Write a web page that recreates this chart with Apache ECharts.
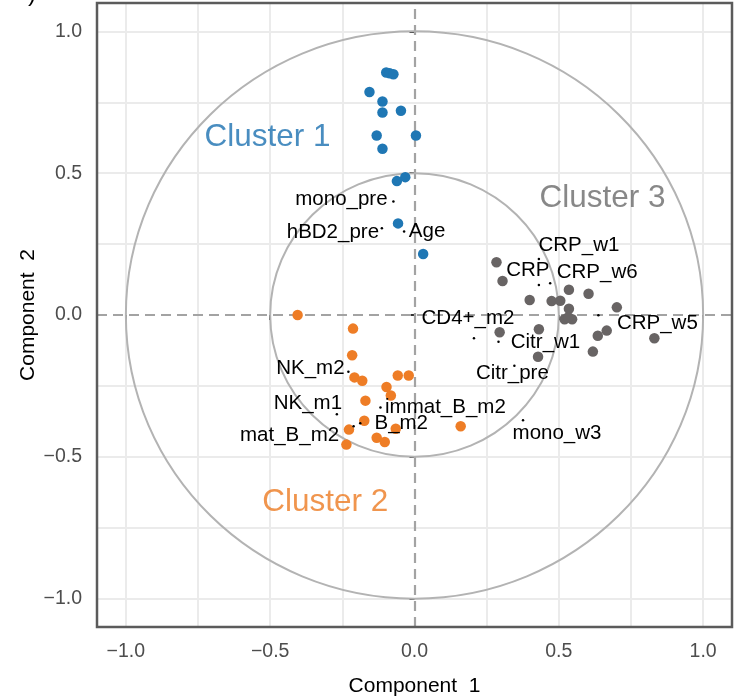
<!DOCTYPE html>
<html>
<head>
<meta charset="utf-8">
<script src="https://cdn.jsdelivr.net/npm/echarts@6/dist/echarts.min.js"></script>
<style>
  html, body { margin: 0; padding: 0; background: #ffffff; }
  #chart { width: 734px; height: 698px; }
</style>
</head>
<body>
<div id="chart"></div>
<script>
// Observation loadings on the first two components, grouped by cluster
const cluster1 = [
  [-0.098, 0.855], [-0.086, 0.852], [-0.073, 0.849], [-0.156, 0.786],
  [-0.111, 0.753], [-0.111, 0.714], [-0.047, 0.720], [-0.131, 0.633],
  [0.005, 0.633], [-0.111, 0.586], [-0.032, 0.486], [-0.061, 0.472],
  [-0.057, 0.323], [0.030, 0.215]
];
const cluster2 = [
  [-0.405, 0.000], [-0.213, -0.048], [-0.216, -0.142], [-0.208, -0.220],
  [-0.181, -0.232], [-0.058, -0.213], [-0.020, -0.213], [-0.097, -0.254],
  [-0.082, -0.284], [-0.170, -0.302], [-0.174, -0.373], [-0.227, -0.404],
  [-0.236, -0.457], [-0.131, -0.433], [-0.103, -0.448], [-0.065, -0.401],
  [0.160, -0.392]
];
const cluster3 = [
  [0.284, 0.186], [0.305, 0.120], [0.399, 0.053], [0.475, 0.049],
  [0.505, 0.050], [0.535, 0.089], [0.603, 0.075], [0.535, 0.022],
  [0.701, 0.027], [0.520, -0.015], [0.546, -0.015], [0.533, -0.008],
  [0.431, -0.050], [0.295, -0.061], [0.666, -0.055], [0.635, -0.073],
  [0.831, -0.082], [0.618, -0.129], [0.428, -0.147]
];

// Variable loadings
const varNames = ['mono_pre', 'hBD2_pre', 'Age', 'CRP_w1', 'CRP', 'CRP_w6', 'CD4+_m2', 'Citr_w1',
  'Citr_pre', 'CRP_w5', 'mono_w3', 'immat_B_m2', 'B_m2', 'NK_m2', 'NK_m1', 'mat_B_m2'];
const varX = [-0.073, -0.113, -0.036, 0.431, 0.431, 0.470, 0.206, 0.291,
  0.346, 0.637, 0.376, -0.118, -0.188, -0.229, -0.269, -0.211];
const varY = [0.400, 0.306, 0.294, 0.197, 0.106, 0.112, -0.082, -0.094,
  -0.179, -0.001, -0.371, -0.326, -0.382, -0.200, -0.350, -0.392];

// Repelled label placement (pixel shift from point to label centre)
const labelShift = [[-52, -2], [-49, 4], [23, 0], [40, -14], [-11, -15], [47, -11], [-6, -20], [47, 1],
  [-2, 8], [59, 8], [34, 13], [65, 0], [41, 0], [-38, -3], [-29, -11], [-64, 9]];

// Cluster captions and where they sit (data units)
const clusterNames = ['Cluster 1', 'Cluster 2', 'Cluster 3'];
const clusterCaptionAt = [[-0.509, 0.625], [-0.309, -0.659], [0.651, 0.412]];

// Correlation circles radii
const circleRadii = [1, 0.5];

// Axis ticks and grid
const tickVals = [-1, -0.5, 0, 0.5, 1];
const gridVals = [-1, -0.75, -0.5, -0.25, 0.25, 0.5, 0.75, 1];

const FONT = '"Liberation Sans", Arial, Helvetica, sans-serif';
const C1 = '#1F77B4', C2 = '#EE7D26', C3 = '#686464';
const C1TXT = '#1C70B0', C2TXT = '#EC7A22', C3TXT = '#6A6A6A';

const fmt = v => (v < 0 ? '\u2212' : '') + Math.abs(v).toFixed(1);
const toPairs = (xs, ys) => xs.map((x, i) => [x, ys[i]]);

const chart = echarts.init(document.getElementById('chart'), null, { renderer: 'canvas' });

const gridLineData = [
  ...gridVals.map(v => ({ xAxis: v })),
  ...gridVals.map(v => ({ yAxis: v }))
];

chart.setOption({
  animation: false,
  backgroundColor: '#ffffff',
  textStyle: { fontFamily: FONT },
  grid: {
    left: 97, right: 2, top: 3, bottom: 71,
    outerBoundsMode: 'none', containLabel: false,
    show: true, z: 10,
    backgroundColor: 'transparent',
    borderColor: '#5B5B5B', borderWidth: 2.5
  },
  xAxis: {
    type: 'value', min: -1.1, max: 1.1,
    axisLine: { show: false },
    splitLine: { show: false },
    axisTick: { show: true, customValues: tickVals, length: 5, lineStyle: { color: '#333333', width: 2 } },
    axisLabel: { customValues: tickVals, formatter: fmt, color: '#4D4D4D', fontSize: 19.5, margin: 15, fontFamily: FONT },
    name: 'Component  1', nameLocation: 'middle', nameGap: 49, nameMoveOverlap: false,
    nameTextStyle: { color: '#000000', fontSize: 21, fontFamily: FONT }
  },
  yAxis: {
    type: 'value', min: -1.1, max: 1.1,
    axisLine: { show: false },
    splitLine: { show: false },
    axisTick: { show: true, customValues: tickVals, length: 5, lineStyle: { color: '#333333', width: 2 } },
    axisLabel: { customValues: tickVals, formatter: fmt, color: '#4D4D4D', fontSize: 19.5, margin: 15, fontFamily: FONT },
    name: 'Component  2', nameLocation: 'middle', nameGap: 58, nameRotate: 90, nameMoveOverlap: false,
    nameTextStyle: { color: '#000000', fontSize: 21, fontFamily: FONT }
  },
  graphic: [{
    type: 'text', left: 28, top: -18,
    style: { text: ')', fontSize: 24, fontFamily: FONT, fill: '#000000' }
  }],
  series: [
    {
      // background grid and dashed origin lines
      type: 'scatter', data: [], silent: true, z: 0,
      markLine: {
        silent: true, symbol: 'none', animation: false, z: 0,
        label: { show: false },
        lineStyle: { color: '#EBEBEB', width: 2, type: 'solid' },
        emphasis: { disabled: true },
        data: gridLineData
      }
    },
    {
      type: 'scatter', data: [], silent: true, z: 1,
      markLine: {
        silent: true, symbol: 'none', animation: false, z: 1,
        label: { show: false },
        lineStyle: { color: '#A3A3A3', width: 2.2, type: [10, 6] },
        emphasis: { disabled: true },
        data: [{ xAxis: 0 }, { yAxis: 0 }]
      }
    },
    {
      type: 'custom', z: 2, silent: true,
      data: circleRadii.map(r => [0, 0, r]),
      encode: { x: 0, y: 1 },
      renderItem: function (params, api) {
        const c = api.coord([api.value(0), api.value(1)]);
        const s = api.size([api.value(2), api.value(2)]);
        return {
          type: 'ellipse',
          shape: { cx: c[0], cy: c[1], rx: s[0], ry: s[1] },
          style: { fill: null, stroke: '#B3B3B3', lineWidth: 2 }
        };
      }
    },
    { type: 'scatter', z: 3, data: cluster1, symbolSize: 10.5, itemStyle: { color: C1, opacity: 1 } },
    { type: 'scatter', z: 3, data: cluster2, symbolSize: 10.5, itemStyle: { color: C2, opacity: 1 } },
    { type: 'scatter', z: 3, data: cluster3, symbolSize: 10.5, itemStyle: { color: C3, opacity: 1 } },
    {
      type: 'scatter', z: 4, symbolSize: 2.5,
      itemStyle: { color: '#000000', opacity: 1 },
      data: toPairs(varX, varY).map((p, i) => ({
        name: varNames[i], value: p,
        label: {
          show: true, position: 'inside', offset: labelShift[i],
          formatter: varNames[i], color: '#000000', fontSize: 20.5, fontFamily: FONT
        }
      }))
    },
    {
      type: 'scatter', z: 4, symbolSize: 0, silent: true,
      data: clusterCaptionAt.map((p, i) => ({
        value: p,
        label: {
          show: true, position: 'inside', formatter: clusterNames[i],
          color: [C1TXT, C2TXT, C3TXT][i], fontSize: 31.5, fontFamily: FONT
        }
      }))
    }
  ]
});
</script>
</body>
</html>
